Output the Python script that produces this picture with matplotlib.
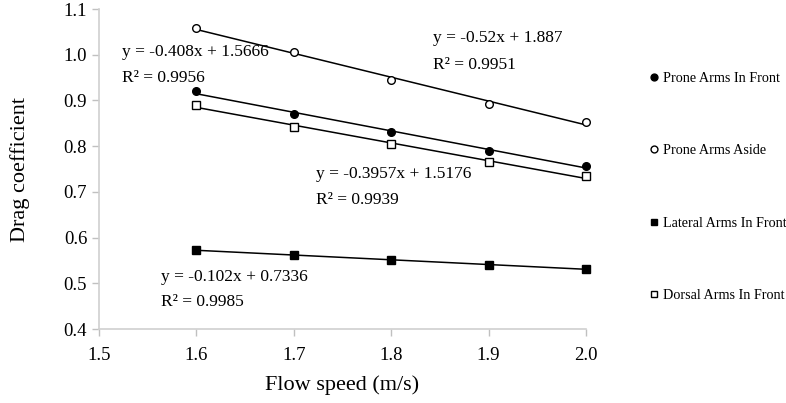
import numpy as np
import matplotlib
matplotlib.use('Agg')
import matplotlib.pyplot as plt

plt.rcParams['font.family'] = ['Liberation Serif', 'DejaVu Serif']

# Dados
velocidade = [1.6, 1.7, 1.8, 1.9, 2.0]
prone_frente = [0.920, 0.870, 0.830, 0.790, 0.757]
prone_lado = [1.058, 1.005, 0.945, 0.893, 0.853]
lateral_frente = [0.572, 0.562, 0.552, 0.540, 0.531]
dorsal_frente = [0.890, 0.842, 0.804, 0.765, 0.734]

series = [
    ('Prone Arms In Front', prone_frente, 'o', 'black'),
    ('Prone Arms Aside', prone_lado, 'o', 'white'),
    ('Lateral Arms In Front', lateral_frente, 's', 'black'),
    ('Dorsal Arms In Front', dorsal_frente, 's', 'white'),
]

equacoes = [
    ('y = -0.408x + 1.5666', 'R² = 0.9956', 1.524, 1.006, 0.949),
    ('y = -0.52x + 1.887', 'R² = 0.9951', 1.843, 1.037, 0.978),
    ('y = -0.3957x + 1.5176', 'R² = 0.9939', 1.723, 0.739, 0.682),
    ('y = -0.102x + 0.7336', 'R² = 0.9985', 1.564, 0.514, 0.459),
]

fig = plt.figure(figsize=(7.86, 4.03), dpi=100)
ax = fig.add_axes([99 / 786, 1 - 329 / 403, 487 / 786, 320 / 403])

x = np.array(velocidade)
for nome, valores, marcador, cor in series:
    coef = np.polyfit(x, valores, 1)
    ax.plot(x, np.polyval(coef, x), color='black', lw=1.1, zorder=2)
    ax.plot(x, valores, linestyle='none', marker=marcador, markersize=5.5,
            markerfacecolor=cor, markeredgecolor='black', markeredgewidth=1.0,
            label=nome, zorder=3, clip_on=False)

for eq, r2, ex, ey, ry in equacoes:
    ax.text(ex, ey, eq, fontsize=12.5, va='center', ha='left')
    ax.text(ex, ry, r2, fontsize=12.5, va='center', ha='left')

ax.set_xlim(1.5, 2.0)
ax.set_ylim(0.4, 1.1)
ax.set_xticks([1.5, 1.6, 1.7, 1.8, 1.9, 2.0])
ax.set_xticklabels(['1.5', '1.6', '1.7', '1.8', '1.9', '2.0'])
ax.set_yticks(np.arange(0.4, 1.11, 0.1))
ax.set_yticklabels(['%.1f' % v for v in np.arange(0.4, 1.11, 0.1)])

for lado in ['top', 'right']:
    ax.spines[lado].set_visible(False)
for lado in ['left', 'bottom']:
    ax.spines[lado].set_color('#d0d0d0')
    ax.spines[lado].set_linewidth(1.2)
ax.tick_params(colors='#c0c0c0', labelcolor='black', labelsize=13.5, length=5, width=1)
ax.tick_params(axis='x', pad=8)

ax.set_xlabel('Flow speed (m/s)', fontsize=16, labelpad=8)
ax.set_ylabel('Drag coefficient', fontsize=16, labelpad=24)

fig.legend(loc='upper left', bbox_to_anchor=(640 / 786, 1 - 66 / 403), frameon=False,
           fontsize=10.2, labelspacing=4.2, handletextpad=0.05, handlelength=1.2,
           markerscale=0.9, borderaxespad=0)

fig.savefig('out.png', dpi=100)
